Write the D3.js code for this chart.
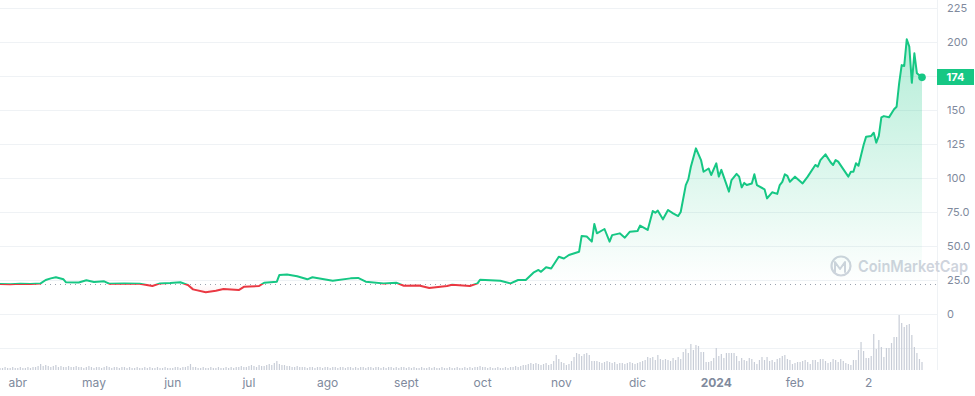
<!DOCTYPE html>
<html>
<head>
<meta charset="utf-8">
<script src="https://cdn.jsdelivr.net/npm/d3@7"></script>
<style>
  html, body { margin: 0; padding: 0; background: #fff; }
  svg { display: block; font-family: Inter, "Noto Sans", sans-serif; }
  .grid line { stroke: #eff2f5; stroke-width: 1; }
  .ylab { fill: #808a9d; font-size: 11px; }
  .xlab { fill: #808a9d; font-size: 12px; }
</style>
</head>
<body>
<svg id="chart" width="975" height="396"></svg>
<script>
// days since 2023-03-25 and closing price (USD)
const startDate = new Date(2023, 2, 25);
const priceDays = [0, 4, 8, 12, 16, 18, 20, 22, 25, 26, 31, 34, 37, 41, 43, 49, 55, 60, 63, 67,
  71, 74, 76, 81, 85, 88, 91, 94, 96, 102, 104, 109, 110, 113, 117, 121, 123, 131, 138, 141,
  144, 151, 156, 159, 165, 169, 176, 178, 185, 188, 189, 197, 201, 204, 207, 210, 212, 213, 215, 217,
  220, 222, 224, 228, 229, 231, 233, 234, 235, 238, 240, 241, 244, 246, 248, 251, 252, 255, 257, 258,
  259, 261, 263, 265, 267, 268, 270, 271, 272, 274, 276, 277, 279, 280, 282, 283, 284, 287, 288, 290,
  291, 292, 293, 294, 296, 297, 298, 301, 302, 304, 306, 307, 308, 309, 310, 311, 313, 316, 318, 321,
  322, 323, 325, 327, 328, 329, 330, 334, 335, 336, 337, 338, 340, 341, 343, 344, 345, 346, 347, 348,
  350, 352, 353, 354, 355, 356, 357, 358, 359, 360, 361, 363];
const prices = [22.0, 21.8, 22.3, 22.0, 22.5, 25.0, 26.2, 27.0, 25.5, 23.3, 23.2, 24.8, 23.6, 24.0, 22.3, 22.5, 22.3, 20.6, 22.5, 22.8,
  23.3, 21.3, 18.1, 16.0, 17.1, 18.4, 18.0, 17.6, 20.0, 20.6, 23.0, 23.8, 28.7, 29.0, 27.7, 25.5, 27.0, 24.5, 26.2, 26.5,
  23.8, 22.5, 23.0, 20.8, 21.0, 19.1, 20.6, 21.5, 20.6, 22.5, 25.2, 24.5, 22.5, 25.0, 25.0, 30.4, 32.4, 31.0, 34.3, 33.5,
  42.1, 40.8, 43.4, 45.8, 57.4, 57.0, 53.2, 66.2, 59.3, 62.5, 53.2, 58.0, 59.3, 56.1, 60.5, 61.0, 65.0, 61.8, 75.7, 74.5,
  76.0, 69.6, 76.5, 74.0, 72.0, 75.0, 94.8, 99.0, 108.3, 121.8, 113.2, 104.6, 107.0, 102.2, 110.8, 101.0, 106.0, 90.0, 98.5, 103.0,
  101.0, 93.1, 96.4, 94.8, 96.0, 102.7, 94.8, 91.7, 85.0, 89.5, 88.3, 94.8, 97.2, 102.7, 101.5, 97.2, 101.0, 96.0, 101.0, 109.6,
  108.3, 113.2, 117.4, 111.6, 109.6, 113.2, 112.0, 101.0, 104.6, 104.6, 110.8, 109.0, 124.3, 130.4, 130.9, 133.3, 126.0, 130.9, 144.6, 145.5,
  144.6, 150.5, 152.4, 169.6, 183.0, 182.4, 202.0, 196.6, 170.0, 191.7, 177.0, 174.0];

// daily volume (relative units), one per day from 2023-03-25
const volumes = [
  2,2,3,2,2,3,2,2,3,2,2,3,2,3,3,4,6,4,5,4,3,4,5,3,4,3,3,4,3,3,
  4,3,3,2,3,4,3,2,3,3,2,3,4,3,2,3,3,2,3,3,2,3,2,2,3,2,2,3,2,3,
  2,2,3,2,2,3,2,2,2,3,3,2,3,3,4,6,3,3,2,2,3,2,2,3,2,2,3,2,2,3,
  2,3,2,3,3,4,3,3,4,5,4,3,5,4,4,5,6,5,7,9,6,5,5,4,4,3,3,4,3,3,
  3,2,3,3,2,3,3,2,3,3,2,3,3,2,3,3,2,3,3,2,3,2,3,3,2,3,3,2,3,3,
  2,3,2,3,3,2,3,2,3,3,2,3,2,3,2,2,3,2,2,3,2,3,2,2,3,2,2,3,2,2,
  3,2,2,3,2,3,2,3,3,4,3,3,2,3,2,2,3,2,2,3,2,3,3,4,3,4,5,5,6,7,
  6,7,6,5,6,7,5,6,9,15,11,8,7,5,6,9,13,17,16,14,16,17,15,9,9,9,8,7,8,9,
  8,7,8,6,7,7,6,7,8,7,6,7,8,9,10,13,12,13,10,15,11,10,11,10,9,12,10,13,11,18,
  21,17,26,20,25,24,18,18,8,8,9,12,22,14,16,12,17,17,17,17,14,9,12,10,9,12,11,8,6,10,
  13,10,13,9,10,8,11,12,14,15,11,10,6,7,8,8,9,10,8,6,10,10,8,11,11,9,7,8,11,10,
  8,11,9,7,6,5,10,10,20,28,19,12,12,14,36,21,30,23,13,22,22,27,33,33,55,47,43,45,46,35,23,17,11,8
];

const tickDates = ["2023-04-01", "2023-05-01", "2023-06-01", "2023-07-01", "2023-08-01", "2023-09-01",
  "2023-10-01", "2023-11-01", "2023-12-01", "2024-01-01", "2024-02-01", "2024-03-01"];
const tickLabels = ["abr", "may", "jun", "jul", "ago", "sept", "oct", "nov", "dic", "2024", "feb", "2"];
const priceTicks = [0, 25, 50, 75, 100, 125, 150, 200, 225];
const gridValues = [-25, 0, 25, 50, 75, 100, 125, 150, 175, 200, 225];

const green = "#16c784", red = "#ea3943";
const parse = d3.timeParse("%Y-%m-%d");
const data = priceDays.map((d, i) => ({ date: d3.timeDay.offset(startDate, d), price: prices[i] }));
const volData = volumes.map((v, i) => ({ date: d3.timeDay.offset(startDate, i), vol: v }));
const base = prices[0];
const last = data[data.length - 1];

const svg = d3.select("#chart");
const plotRight = 937;

const x = d3.scaleTime().domain([startDate, last.date]).range([0, 922]);
const y = d3.scaleLinear().domain([0, 225]).range([314, 8]);
const yVol = d3.scaleLinear().domain([0, d3.max(volumes)]).range([370, 315]);

// grid
svg.append("g").attr("class", "grid").selectAll("line")
  .data(gridValues).enter().append("line")
  .attr("x1", 0).attr("x2", plotRight)
  .attr("y1", d => Math.round(y(d)) + 0.5).attr("y2", d => Math.round(y(d)) + 0.5);
svg.append("line").attr("x1", plotRight + 0.5).attr("x2", plotRight + 0.5)
  .attr("y1", 0).attr("y2", 370).attr("stroke", "#eff2f5");

// volume bars
svg.append("g").selectAll("rect")
  .data(volData).enter().append("rect")
  .attr("x", d => x(d.date) - 0.6).attr("width", 1.2)
  .attr("y", d => yVol(d.vol)).attr("height", d => yVol(0) - yVol(d.vol))
  .attr("fill", "#c8cdd7");

// watermark
const wm = svg.append("g").attr("fill", "none").attr("stroke", "#cfd4dd");
wm.append("circle").attr("cx", 841).attr("cy", 266).attr("r", 9.5).attr("stroke-width", 2.2);
wm.append("path").attr("d", "M835,272 L835,262 L840,269 L845,262 L845,272")
  .attr("stroke-width", 2).attr("stroke-linejoin", "round").attr("stroke-linecap", "round");
svg.append("text").attr("x", 858).attr("y", 272).text("CoinMarketCap")
  .attr("fill", "#cfd4dd").attr("font-size", 16).attr("font-weight", 600)
  .attr("textLength", 110).attr("lengthAdjust", "spacingAndGlyphs");

// gradients and clips
const defs = svg.append("defs");
const gUp = defs.append("linearGradient").attr("id", "fillUp")
  .attr("gradientUnits", "userSpaceOnUse").attr("x1", 0).attr("x2", 0)
  .attr("y1", y(200)).attr("y2", y(base));
gUp.append("stop").attr("offset", 0).attr("stop-color", green).attr("stop-opacity", 0.32);
gUp.append("stop").attr("offset", 1).attr("stop-color", green).attr("stop-opacity", 0.0);
const gDn = defs.append("linearGradient").attr("id", "fillDn")
  .attr("gradientUnits", "userSpaceOnUse").attr("x1", 0).attr("x2", 0)
  .attr("y1", y(base)).attr("y2", y(10));
gDn.append("stop").attr("offset", 0).attr("stop-color", red).attr("stop-opacity", 0.0);
gDn.append("stop").attr("offset", 1).attr("stop-color", red).attr("stop-opacity", 0.12);
defs.append("clipPath").attr("id", "clipUp").append("rect")
  .attr("x", -5).attr("y", 0).attr("width", plotRight + 5).attr("height", y(base));
defs.append("clipPath").attr("id", "clipDn").append("rect")
  .attr("x", -5).attr("y", y(base)).attr("width", plotRight + 5).attr("height", 100);

const area = d3.area().x(d => x(d.date)).y0(y(base)).y1(d => y(d.price));
const line = d3.line().x(d => x(d.date)).y(d => y(d.price));

svg.append("path").datum(data).attr("d", area).attr("fill", "url(#fillUp)").attr("clip-path", "url(#clipUp)");
svg.append("path").datum(data).attr("d", area).attr("fill", "url(#fillDn)").attr("clip-path", "url(#clipDn)");

// baseline (first price)
svg.append("line").attr("x1", 0).attr("x2", plotRight)
  .attr("y1", Math.round(y(base)) + 0.5).attr("y2", Math.round(y(base)) + 0.5)
  .attr("stroke", "#9aa1ad").attr("stroke-width", 1).attr("stroke-dasharray", "1 4");

[["clipUp", green], ["clipDn", red]].forEach(([clip, col]) => {
  svg.append("path").datum(data).attr("d", line)
    .attr("fill", "none").attr("stroke", col).attr("stroke-width", 2)
    .attr("stroke-linejoin", "round").attr("stroke-linecap", "round")
    .attr("clip-path", `url(#${clip})`);
});

svg.append("circle").attr("cx", x(last.date)).attr("cy", y(last.price)).attr("r", 3.8).attr("fill", green);

// right axis
svg.append("g").selectAll("text")
  .data(priceTicks).enter().append("text").attr("class", "ylab")
  .attr("x", 947).attr("y", d => y(d)).attr("dy", "0.35em")
  .text(d => d === 0 ? "0" : d >= 100 ? d3.format("d")(d) : d3.format(".1f")(d));

// last price badge
const by = Math.round(y(last.price));
svg.append("rect").attr("x", 937).attr("y", by - 8).attr("width", 37).attr("height", 16).attr("fill", green);
svg.append("text").attr("x", 955.5).attr("y", by).attr("dy", "0.36em").attr("text-anchor", "middle")
  .attr("fill", "#fff").attr("font-size", 11).attr("font-weight", 700).text(d3.format("d")(last.price));

// bottom axis
svg.append("g").selectAll("text")
  .data(tickDates).enter().append("text").attr("class", "xlab")
  .attr("x", d => x(parse(d))).attr("y", 383).attr("dy", "0.35em").attr("text-anchor", "middle")
  .attr("font-weight", (d, i) => tickLabels[i] === "2024" ? 700 : 400)
  .attr("fill", (d, i) => tickLabels[i] === "2024" ? "#58667e" : null)
  .text((d, i) => tickLabels[i]);
</script>
</body>
</html>
